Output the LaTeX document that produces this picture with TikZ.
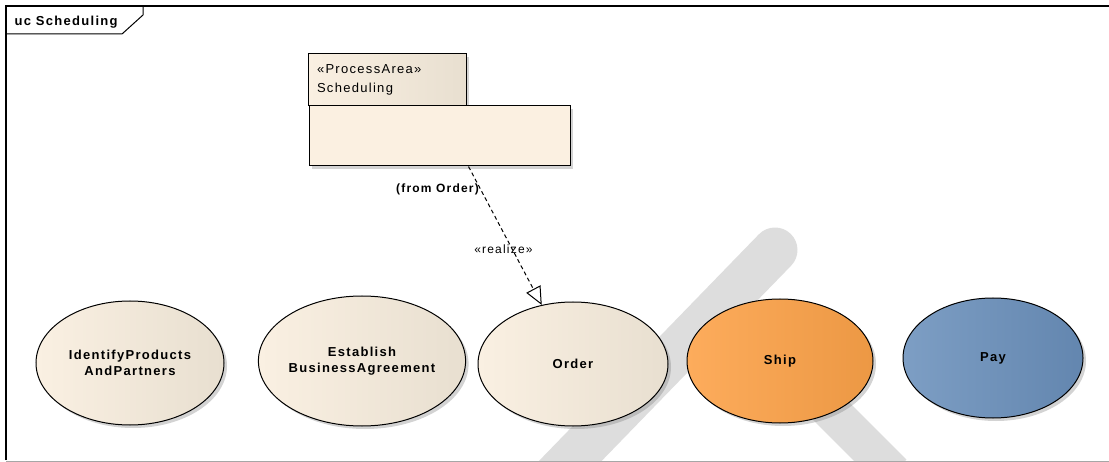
\documentclass[tikz,border=0pt]{standalone}
\usepackage{fontspec}
\setmainfont{Liberation Sans}[LetterSpace=10]
\usetikzlibrary{shapes.geometric,arrows.meta,shadows,positioning}

\definecolor{creamL}{HTML}{FAF0E2}
\definecolor{creamR}{HTML}{E8DFD0}
\definecolor{shipL}{HTML}{FDAC5C}
\definecolor{shipR}{HTML}{EC9844}
\definecolor{payL}{HTML}{7D9EC4}
\definecolor{payR}{HTML}{6386AF}
\definecolor{pkgfill}{HTML}{FBF0E1}
\definecolor{wmgray}{HTML}{DDDDDD}

\tikzset{
  shadowed/.style={drop shadow={shadow xshift=3pt,shadow yshift=-3pt,opacity=.35}},
  usecase/.style={ellipse,draw,line width=1pt,inner sep=0pt,shadowed,
    left color=creamL,right color=creamR,align=center,
    font=\fontsize{13}{16}\selectfont\bfseries},
  pkgbox/.style={rectangle,draw,line width=1pt,inner sep=0pt,shadowed},
  realize/.style={line width=1pt,dash pattern=on 4pt off 3pt,
    -{Triangle[open,length=18pt,width=16pt,fill=white]}}
}

\begin{document}
\begin{tikzpicture}[x=1pt,y=-1pt]
  \useasboundingbox (0,0) rectangle (1109,462);
  % watermark
  \draw[wmgray,line width=45pt,line cap=round] (775,250) -- (545,487);
  \draw[wmgray,line width=38pt] (770,350) -- (893,473);
  % frame
  \draw[line width=2pt] (6,460) -- (6,6) -- (1109,6);
  \draw[gray!70] (6,461) -- (1109,461);
  \draw[line width=1pt] (6,34) -- (122,34) -- (143,15) -- (143,6);
  \node (title) [anchor=west,font=\fontsize{13}{15}\selectfont\bfseries] at (11,22) {uc Scheduling};

  \node (pkgtab) [pkgbox,left color=creamL,right color=creamR,
    minimum width=158pt,minimum height=52pt,text width=140pt,align=left,
    font=\fontsize{13}{19}\selectfont] at (387,80) {«ProcessArea»\\Scheduling};
  \node (pkg) [pkgbox,fill=pkgfill,minimum width=261pt,minimum height=60pt] at (439.5,136) {};
  \node (from) [below=14pt of pkg.south,xshift=-2pt,font=\fontsize{12}{14}\selectfont\bfseries] {(from Order)};

  \node (identify) [usecase,minimum width=188pt,minimum height=124pt] at (130,363) {IdentifyProducts\\AndPartners};
  \node (establish) [usecase,minimum width=200pt,minimum height=130pt] at (362,361) {Establish\\BusinessAgreement};
  \node (order) [usecase,minimum width=190pt,minimum height=124pt] at (573,364) {Order};
  \node (ship) [usecase,left color=shipL,right color=shipR,minimum width=186pt,minimum height=124pt] at (780,361) {Ship};
  \node (pay) [usecase,left color=payL,right color=payR,minimum width=180pt,minimum height=120pt] at (993,358) {Pay};

  \draw[realize] ([xshift=29pt]pkg.south) -- (order)
    node[pos=0.6,xshift=-9pt,font=\fontsize{12}{14}\selectfont] {«realize»};
\end{tikzpicture}
\end{document}
